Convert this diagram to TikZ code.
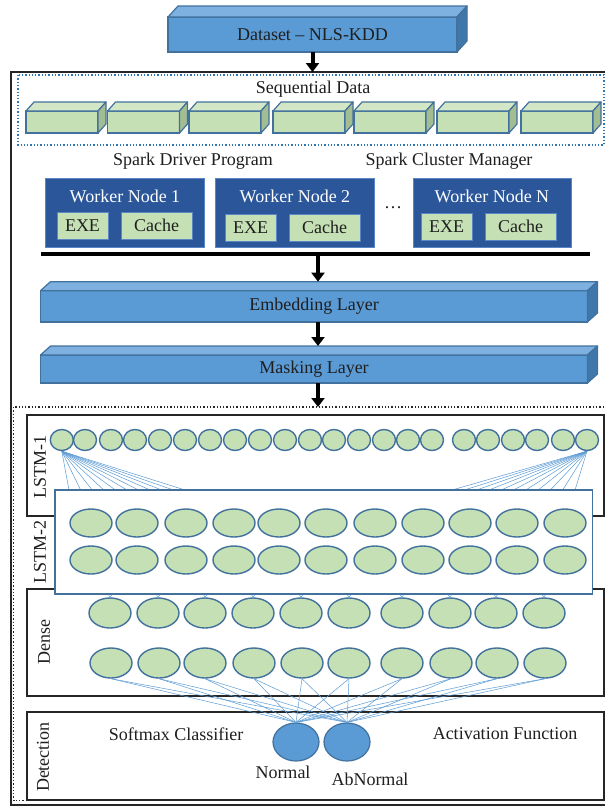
\documentclass[tikz,border=0pt]{standalone}
\usepackage{fontspec}
\setmainfont{Liberation Serif}
\usetikzlibrary{arrows.meta,calc,shapes.geometric}
\definecolor{bfront}{HTML}{5B9BD5}
\definecolor{btop}{HTML}{7EB0E0}
\definecolor{bside}{HTML}{3F77AB}
\definecolor{bline}{HTML}{41719C}
\definecolor{gfront}{HTML}{C5E0B4}
\definecolor{gtop}{HTML}{D3E7C6}
\definecolor{gside}{HTML}{A3BD92}
\definecolor{wnfill}{HTML}{2B579A}
\definecolor{wnline}{HTML}{5A86C5}
\definecolor{connc}{HTML}{5B9BD5}
\definecolor{dotblue}{HTML}{2E75B6}
\newcommand{\cubefaces}[5]{%
  \filldraw[fill=#4,draw=bline,line width=1.2pt,line join=round] (#1.north west) -- ++(#2,-#3) -- ($(#1.north east)+(#2,-#3)$) -- (#1.north east) -- cycle;
  \filldraw[fill=#5,draw=bline,line width=1.2pt,line join=round] (#1.north east) -- ++(#2,-#3) -- ($(#1.south east)+(#2,-#3)$) -- (#1.south east) -- cycle;
}
\tikzset{
  txt/.style={font=\fontsize{18}{21}\selectfont, text=black!88},
  bluefront/.style={draw=bline, fill=bfront, line width=1.2pt, inner sep=0pt, outer sep=0pt, txt},
  greenfront/.style={draw=bline, fill=gfront, line width=1.4pt, inner sep=0pt, outer sep=0pt},
  worker/.style={draw=wnline, fill=wnfill, line width=1pt, inner sep=0pt, outer sep=0pt},
  wtitle/.style={txt, text=white},
  cellbox/.style={draw=wnline, fill=gfront, line width=0.8pt, inner sep=0pt, txt, minimum height=27pt},
  lstmcell/.style={ellipse, draw=bline, fill=gfront, line width=1.4pt, inner sep=0pt, minimum width=23pt, minimum height=21pt},
  bigcell/.style={ellipse, draw=bline, fill=gfront, line width=1.4pt, inner sep=0pt, minimum width=42pt, minimum height=28pt},
  densecell/.style={ellipse, draw=bline, fill=gfront, line width=1.4pt, inner sep=0pt, minimum width=42pt, minimum height=30pt},
  outcell/.style={ellipse, draw=bline, fill=bfront, line width=1.2pt, inner sep=0pt, minimum width=46pt, minimum height=38pt},
  layerbox/.style={draw=black!85, line width=1.1pt, inner sep=0pt, outer sep=0pt},
  connline/.style={draw=connc, line width=0.5pt},
  bigarrow/.style={draw=black, line width=4pt, -{Triangle[width=13pt,length=9pt]}},
  vlabel/.style={txt, rotate=90},
}
\begin{document}
\begin{tikzpicture}[x=1pt,y=-1pt]
\useasboundingbox (0,0) rectangle (605,807);
\fill[white] (0,0) rectangle (605,807);

% Dataset
\node[bluefront, minimum width=289pt, minimum height=35pt] (ds) at (312.5,34.5) {Dataset -- NLS-KDD};
\cubefaces{ds}{10}{11}{btop}{bside}

% outer frame
\draw[black!85, line width=1.3pt] (608,72) -- (11,72) -- (11,805) -- (608,805);
\coordinate (ftop) at (312.5,72);
\draw[bigarrow] (ds.south) -- (ftop);

% sequential data
\draw[dotblue, dotted, line width=1.3pt] (18,75) rectangle (604,145);
\node[txt] (seq) at (313,89) {Sequential Data};
\foreach \i/\x in {1/62,2/143.5,3/225,4/309,5/390,6/473,7/557}{
  \node[greenfront, minimum width=72pt, minimum height=22pt] (s\i) at (\x,122) {};
  \cubefaces{s\i}{8}{9}{gtop}{gside}
}

\node[txt] (drv) at (193,161) {Spark Driver Program};
\node[txt] (mgr) at (449,161) {Spark Cluster Manager};

% worker nodes
\node[worker, minimum width=159pt, minimum height=69pt] (w1) at (125,212.5) {};
\node[wtitle] (w1t) at (125,196) {Worker Node 1};
\node[cellbox, minimum width=51pt] (w1e) at (82.5,225.5) {EXE};
\node[cellbox, minimum width=71pt] (w1c) at (156.5,225.5) {Cache};

\node[worker, minimum width=159pt, minimum height=69pt] (w2) at (295,212.5) {};
\node[wtitle] (w2t) at (295,196) {Worker Node 2};
\node[cellbox, minimum width=51pt] (w2e) at (250.5,227.5) {EXE};
\node[cellbox, minimum width=71pt] (w2c) at (324.5,227.5) {Cache};

\node[txt] (dots) at (393,208) {\dots};

\node[worker, minimum width=158pt, minimum height=69pt] (wn) at (492,212.5) {};
\node[wtitle] (wnt) at (492,196) {Worker Node N};
\node[cellbox, minimum width=51pt] (wne) at (446.5,226.5) {EXE};
\node[cellbox, minimum width=71pt] (wnc) at (520.5,226.5) {Cache};

% bus
\coordinate (busL) at (40.5,254);
\coordinate (busR) at (589.5,254);
\draw[black, line width=4pt] (busL) -- (busR);
\coordinate (busA) at (318,256);

% embedding / masking
\node[bluefront, minimum width=547pt, minimum height=31.3pt] (emb) at (314,306.3) {Embedding Layer};
\cubefaces{emb}{10}{9}{btop}{bside}
\node[bluefront, minimum width=547pt, minimum height=28pt] (mask) at (314,369) {Masking Layer};
\cubefaces{mask}{10}{9}{btop}{bside}

\draw[bigarrow] (busA) -- ([xshift=4pt,yshift=9pt]emb.north);
\draw[bigarrow] ([xshift=4pt]emb.south) -- ([xshift=4pt,yshift=9pt]mask.north);
\coordinate (f2top) at (318,407);
\draw[bigarrow] ([xshift=4pt]mask.south) -- (f2top);

% lower dotted frame
\draw[black!85, dotted, line width=1.3pt] (13.5,407) rectangle (608,800.7);

% LSTM-1
\node[layerbox, minimum width=577pt, minimum height=101pt] (l1box) at (315.5,465.5) {};
\node[vlabel] (l1lab) at (40,467) {LSTM-1};
\foreach \i/\x in {1/61.8,2/85,3/111,4/135,5/160,6/185,7/210,8/235,9/260,10/285,11/310,12/334,13/359,14/384,15/408,16/432,17/464,18/488,19/513,20/537,21/563,22/587}{
  \node[lstmcell] (a\i) at (\x,440) {};
}
\foreach \k in {0,...,10}{
  \coordinate (fl\k) at ({69+\k*11.6},490);
  \coordinate (fr\k) at ({575-\k*12.3},490);
  \draw[connline] (a1.south) -- (fl\k);
  \draw[connline] (a22.south) -- (fr\k);
}

% Dense box
\node[layerbox, minimum width=577pt, minimum height=107pt] (dbox) at (315.5,642.5) {};
\node[vlabel] (dlab) at (44,642) {Dense};

% LSTM-2 coordinates (nodes drawn later)
\foreach \i/\x in {1/91,2/137,3/186,4/234,5/279,6/326,7/375,8/423,9/470,10/517,11/565}{
  \coordinate (m\i) at (\x,560);
}
\foreach \i/\x in {1/110,2/158,3/205,4/253,5/301,6/349,7/402,8/450,9/496,10/544}{
  \node[densecell] (d\i) at (\x,613) {};
}
\foreach \i in {1,...,10}{
  \pgfmathtruncatemacro{\j}{\i+1}
  \draw[connline] (d\i.north) -- (m\i);
  \draw[connline] (d\i.north) -- (m\j);
}

% LSTM-2 box
\node[draw=bline, fill=white, line width=1.3pt, inner sep=0pt, outer sep=0pt, minimum width=537.7pt, minimum height=104pt] (l2box) at (323.85,542) {};
\node[vlabel] (l2lab) at (40,552) {LSTM-2};
\foreach \i/\x in {1/91,2/137,3/186,4/234,5/279,6/326,7/375,8/423,9/470,10/517,11/565}{
  \node[bigcell] (u\i) at (\x,523) {};
  \node[bigcell] (v\i) at (\x,560) {};
}

% Dense row 2
\foreach \i/\x in {1/111,2/159,3/205,4/254,5/302,6/349,7/402,8/451,9/497,10/545}{
  \node[densecell] (e\i) at (\x,663) {};
}

% Detection
\node[layerbox, minimum width=577pt, minimum height=88pt] (detbox) at (315.5,756) {};
\node[vlabel] (detlab) at (43,757) {Detection};
\node[txt] (soft) at (176,734) {Softmax Classifier};
\node[txt] (act) at (505,734) {Activation Function};
\node[outcell] (nrm) at (296,742) {};
\node[outcell] (abn) at (347,742) {};
\foreach \i in {1,...,10}{
  \draw[connline] (e\i.south) -- (nrm.north);
  \draw[connline] (e\i.south) -- (abn.north);
}
\node[txt] (nrmlab) at (283,772) {Normal};
\node[txt] (abnlab) at (370,779) {AbNormal};
\end{tikzpicture}
\end{document}
